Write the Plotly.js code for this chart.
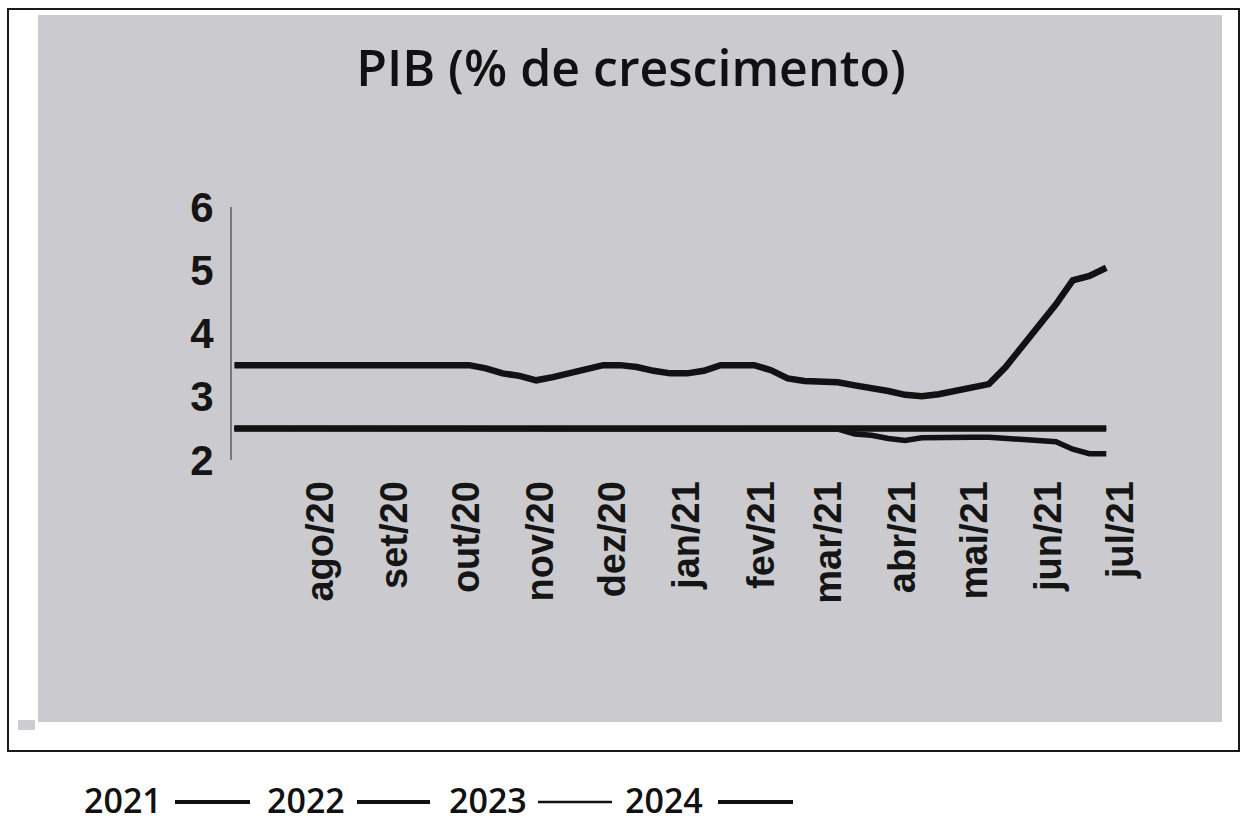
<!DOCTYPE html>
<html>
<head>
<meta charset="utf-8">
<script src="https://cdn.plot.ly/plotly-3.0.1.min.js"></script>
<style>html,body{margin:0;padding:0;background:#fff;}#chart{width:1240px;height:822px;}</style>
</head>
<body>
<div id="chart"></div>
<script>
// ---- data ----
const dates = [
  '2020-06-26','2020-07-03','2020-07-10','2020-07-17','2020-07-24','2020-07-31',
  '2020-08-07','2020-08-14','2020-08-21','2020-08-28','2020-09-04','2020-09-11',
  '2020-09-18','2020-09-25','2020-10-02','2020-10-09','2020-10-16','2020-10-23',
  '2020-10-30','2020-11-06','2020-11-13','2020-11-20','2020-11-27','2020-12-04',
  '2020-12-11','2020-12-18','2020-12-25','2021-01-01','2021-01-08','2021-01-15',
  '2021-01-22','2021-01-29','2021-02-05','2021-02-12','2021-02-19','2021-02-26',
  '2021-03-05','2021-03-12','2021-03-19','2021-03-26','2021-04-02','2021-04-09',
  '2021-04-16','2021-04-23','2021-04-30','2021-05-07','2021-05-14','2021-05-21',
  '2021-05-28','2021-06-04','2021-06-11','2021-06-18','2021-06-25'
];
const seriesNames = ['2021', '2022', '2023', '2024'];
const pib2021 = [
  3.50,3.50,3.50,3.50,3.50,3.50,3.50,3.50,3.50,3.50,3.50,3.50,3.50,3.50,3.50,
  3.45,3.37,3.33,3.26,3.31,3.37,3.42,3.50,3.50,3.47,3.41,3.37,3.37,3.41,3.50,
  3.50,3.50,3.42,3.29,3.25,3.25,3.23,3.18,3.14,3.09,3.03,3.01,3.04,3.09,3.14,
  3.20,3.47,3.80,4.16,4.46,4.84,4.91,5.04
];
const pib2022 = [
  2.50,2.50,2.50,2.50,2.50,2.50,2.50,2.50,2.50,2.50,2.50,2.50,2.50,2.50,2.50,
  2.50,2.50,2.50,2.50,2.50,2.50,2.50,2.50,2.50,2.50,2.50,2.50,2.50,2.50,2.50,
  2.50,2.50,2.50,2.50,2.50,2.50,2.49,2.41,2.39,2.34,2.31,2.35,2.36,2.36,2.36,
  2.36,2.34,2.31,2.31,2.29,2.17,2.10,2.10
];
const pib2023 = [
  2.50,2.50,2.50,2.50,2.50,2.50,2.50,2.50,2.50,2.50,2.50,2.50,2.50,2.50,2.50,
  2.50,2.50,2.50,2.50,2.50,2.50,2.50,2.50,2.50,2.50,2.50,2.50,2.50,2.50,2.50,
  2.50,2.50,2.50,2.50,2.50,2.50,2.50,2.50,2.50,2.50,2.50,2.50,2.50,2.50,2.50,
  2.50,2.50,2.50,2.50,2.50,2.50,2.50,2.50
];
const pib2024 = [
  2.50,2.50,2.50,2.50,2.50,2.50,2.50,2.50,2.50,2.50,2.50,2.50,2.50,2.50,2.50,
  2.50,2.50,2.50,2.50,2.50,2.50,2.50,2.50,2.50,2.50,2.50,2.50,2.50,2.50,2.50,
  2.50,2.50,2.50,2.50,2.50,2.50,2.50,2.50,2.50,2.50,2.50,2.50,2.50,2.50,2.50,
  2.50,2.50,2.50,2.50,2.50,2.50,2.50,2.50
];
const tickDates = ['2020-08-01','2020-09-01','2020-10-01','2020-11-01','2020-12-01','2021-01-01',
                   '2021-02-01','2021-03-01','2021-04-01','2021-05-01','2021-06-01','2021-07-01'];
const tickLabels = ['ago/20','set/20','out/20','nov/20','dez/20','jan/21',
                    'fev/21','mar/21','abr/21','mai/21','jun/21','jul/21'];
const yTicks = [2, 3, 4, 5, 6];
const titleText = 'PIB (% de crescimento)';

// ---- layout geometry (pixels) ----
const W = 1240, H = 822;
const L = 232, R = 1135, T = 207, B = 460;
const px = x => (x - L) / (R - L);
const py = y => (B - y) / (B - T);

const allSeries = [pib2021, pib2022, pib2023, pib2024];
const widths = [6.5, 5.5, 3, 6.5];
const legendWidths = [4, 4, 2.5, 4];

const traces = allSeries.map((vals, i) => ({
  type: 'scatter', mode: 'lines', x: dates, y: vals, name: seriesNames[i],
  line: {color: '#121212', width: widths[i]}, showlegend: false, hoverinfo: 'skip'
}));

const shapes = [
  // outer frame
  {type:'rect', xref:'paper', yref:'paper', x0:px(8), x1:px(1239), y0:py(9), y1:py(751),
   line:{color:'#1a1a1a', width:2}, fillcolor:'rgba(0,0,0,0)', layer:'below'},
  // scanned gray area
  {type:'rect', xref:'paper', yref:'paper', x0:px(38), x1:px(1222), y0:py(15), y1:py(722),
   line:{width:0}, fillcolor:'#cbcbcf', layer:'below'},
  {type:'rect', xref:'paper', yref:'paper', x0:px(18), x1:px(35), y0:py(720), y1:py(730),
   line:{width:0}, fillcolor:'#cdcdd1', layer:'below'}
];

const annotations = [];
const legTextX = [82, 265, 447, 623];
const legLineX = [[175, 250], [357, 430], [538, 612], [718, 793]];
seriesNames.forEach((nm, i) => {
  annotations.push({xref:'paper', yref:'paper', x:px(legTextX[i]), y:py(800), xanchor:'left', yanchor:'middle',
    text:nm, showarrow:false, font:{family:'Open Sans', size:34, weight:600, color:'#111'}});
  shapes.push({type:'line', xref:'paper', yref:'paper', x0:px(legLineX[i][0]), x1:px(legLineX[i][1]),
    y0:py(802), y1:py(802), line:{color:'#111', width:legendWidths[i]}});
});

const layout = {
  width: W, height: H,
  margin: {l: L, r: W - R, t: T, b: H - B, pad: 0},
  paper_bgcolor: '#ffffff', plot_bgcolor: 'rgba(0,0,0,0)',
  showlegend: false,
  title: {text: titleText, x: px(631), xref: 'paper', xanchor: 'center',
          y: 1 - 68 / H, yref: 'container', yanchor: 'middle',
          font: {family: 'Open Sans', size: 50, weight: 600, color: '#111'}},
  xaxis: {type: 'date', range: ['2020-06-25', '2021-07-07'],
          tickmode: 'array', tickvals: tickDates, ticktext: tickLabels, tickangle: -90,
          ticks: 'outside', ticklen: 5, tickcolor: 'rgba(0,0,0,0)',
          showgrid: false, zeroline: false, showline: false,
          tickfont: {family: 'Liberation Sans, Arial', size: 38, weight: 700, color: '#151515'}},
  yaxis: {range: [2, 6], tickmode: 'array', tickvals: yTicks, ticktext: yTicks.map(String),
          ticks: 'outside', ticklen: 8, tickcolor: 'rgba(0,0,0,0)',
          showgrid: false, zeroline: false, showline: true, linecolor: '#7a7a7a', linewidth: 2,
          tickfont: {family: 'Liberation Sans, Arial', size: 42, weight: 700, color: '#151515'}},
  shapes: shapes, annotations: annotations
};

Plotly.newPlot('chart', traces, layout, {displayModeBar: false, staticPlot: true});
</script>
</body>
</html>
